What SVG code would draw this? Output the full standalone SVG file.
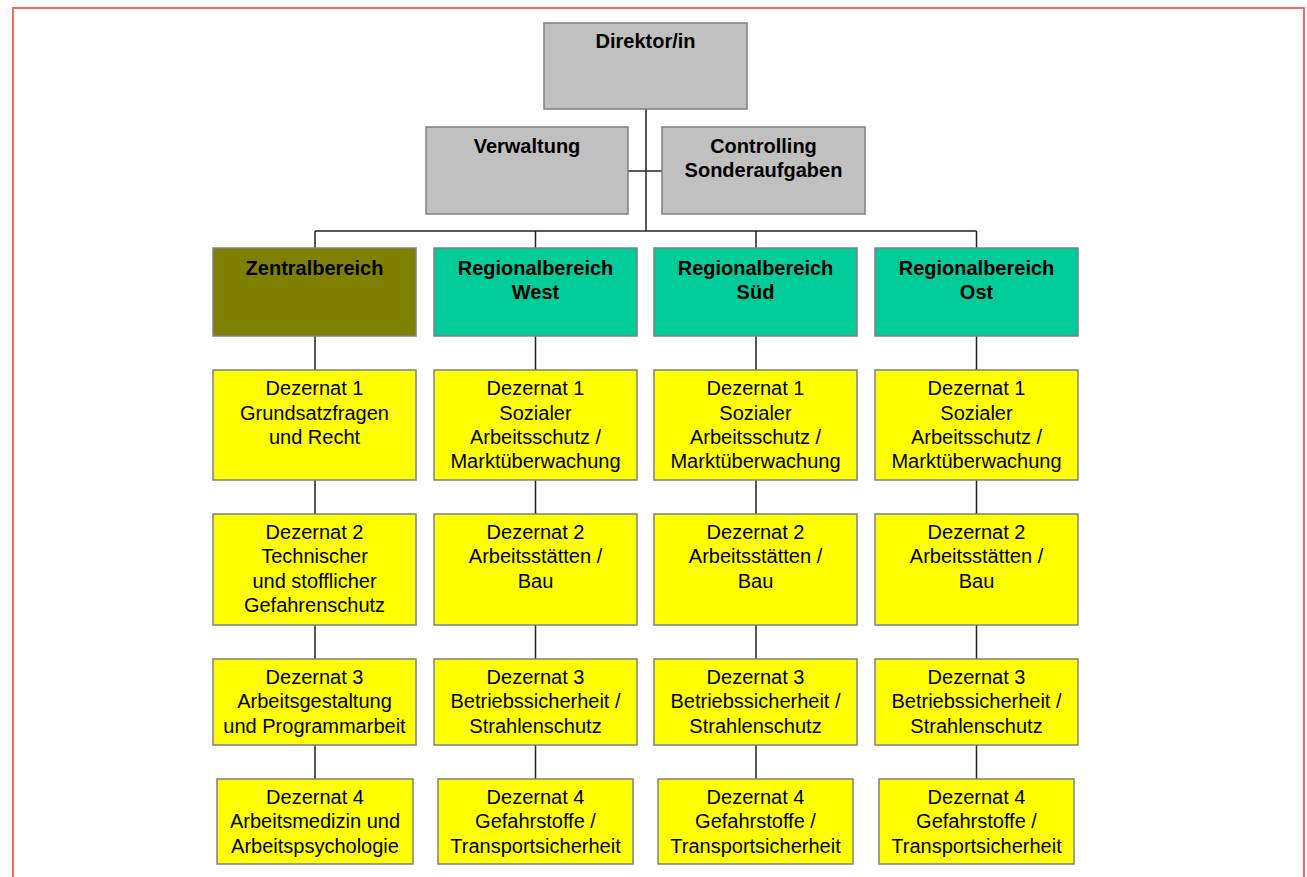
<svg xmlns="http://www.w3.org/2000/svg" width="1307" height="877" viewBox="0 0 1307 877">
<style>
rect.b{stroke:#808080;stroke-width:1.5}
.g{fill:#C0C0C0}.o{fill:#808000}.t{fill:#00CC99}.y{fill:#FFFF00}
text{font-family:"Liberation Sans",Arial,sans-serif;font-size:20px;fill:#000;text-anchor:middle}
text.h{font-weight:bold}
#conn line{stroke:#222;stroke-width:1.5}
</style>
<rect x="13" y="8" width="1291" height="880" fill="#fff" stroke="#F06A5E" stroke-width="2"/>
<g id="conn">
<line x1="646" y1="109" x2="646" y2="231"/>
<line x1="628" y1="171" x2="662" y2="171"/>
<line x1="315" y1="231" x2="976.5" y2="231"/>
<line x1="315" y1="231" x2="315" y2="779"/>
<line x1="535.5" y1="231" x2="535.5" y2="779"/>
<line x1="756" y1="231" x2="756" y2="779"/>
<line x1="976.5" y1="231" x2="976.5" y2="779"/>
</g>
<g id="direktor"><rect class="b g" x="544" y="23" width="203" height="86"/><text class="h" x="645.5" y="48">Direktor/in</text></g>
<g id="verwaltung"><rect class="b g" x="426" y="127" width="202" height="87"/><text class="h" x="527" y="153">Verwaltung</text></g>
<g id="controlling"><rect class="b g" x="662" y="127" width="203" height="87"/><text class="h" x="763.5" y="153">Controlling</text><text class="h" x="763.5" y="177">Sonderaufgaben</text></g>

<g id="zentral"><rect class="b o" x="213" y="248" width="203" height="88"/><text class="h" x="314.5" y="275">Zentralbereich</text></g>
<g id="west"><rect class="b t" x="434" y="248" width="203" height="88"/><text class="h" x="535.5" y="275">Regionalbereich</text><text class="h" x="535.5" y="299">West</text></g>
<g id="sued"><rect class="b t" x="654" y="248" width="203" height="88"/><text class="h" x="755.5" y="275">Regionalbereich</text><text class="h" x="755.5" y="299">Süd</text></g>
<g id="ost"><rect class="b t" x="875" y="248" width="203" height="88"/><text class="h" x="976.5" y="275">Regionalbereich</text><text class="h" x="976.5" y="299">Ost</text></g>

<g id="z1"><rect class="b y" x="213" y="370" width="203" height="110"/><text x="314.5" y="395">Dezernat 1</text><text x="314.5" y="420">Grundsatzfragen</text><text x="314.5" y="444">und Recht</text></g>
<g id="z2"><rect class="b y" x="213" y="514" width="203" height="111"/><text x="314.5" y="539">Dezernat 2</text><text x="314.5" y="563">Technischer</text><text x="314.5" y="588">und stofflicher</text><text x="314.5" y="612">Gefahrenschutz</text></g>
<g id="z3"><rect class="b y" x="213" y="659" width="203" height="86"/><text x="314.5" y="684">Dezernat 3</text><text x="314.5" y="708">Arbeitsgestaltung</text><text x="314.5" y="733">und Programmarbeit</text></g>
<g id="z4"><rect class="b y" x="217" y="779" width="196" height="85"/><text x="315" y="804">Dezernat 4</text><text x="315" y="828">Arbeitsmedizin und</text><text x="315" y="853">Arbeitspsychologie</text></g>

<g id="w1"><rect class="b y" x="434" y="370" width="203" height="110"/><text x="535.5" y="395">Dezernat 1</text><text x="535.5" y="420">Sozialer</text><text x="535.5" y="444">Arbeitsschutz /</text><text x="535.5" y="468">Marktüberwachung</text></g>
<g id="w2"><rect class="b y" x="434" y="514" width="203" height="111"/><text x="535.5" y="539">Dezernat 2</text><text x="535.5" y="563">Arbeitsstätten /</text><text x="535.5" y="588">Bau</text></g>
<g id="w3"><rect class="b y" x="434" y="659" width="203" height="86"/><text x="535.5" y="684">Dezernat 3</text><text x="535.5" y="708">Betriebssicherheit /</text><text x="535.5" y="733">Strahlenschutz</text></g>
<g id="w4"><rect class="b y" x="438" y="779" width="195" height="85"/><text x="535.5" y="804">Dezernat 4</text><text x="535.5" y="828">Gefahrstoffe /</text><text x="535.5" y="853">Transportsicherheit</text></g>

<g id="s1"><rect class="b y" x="654" y="370" width="203" height="110"/><text x="755.5" y="395">Dezernat 1</text><text x="755.5" y="420">Sozialer</text><text x="755.5" y="444">Arbeitsschutz /</text><text x="755.5" y="468">Marktüberwachung</text></g>
<g id="s2"><rect class="b y" x="654" y="514" width="203" height="111"/><text x="755.5" y="539">Dezernat 2</text><text x="755.5" y="563">Arbeitsstätten /</text><text x="755.5" y="588">Bau</text></g>
<g id="s3"><rect class="b y" x="654" y="659" width="203" height="86"/><text x="755.5" y="684">Dezernat 3</text><text x="755.5" y="708">Betriebssicherheit /</text><text x="755.5" y="733">Strahlenschutz</text></g>
<g id="s4"><rect class="b y" x="658" y="779" width="195" height="85"/><text x="755.5" y="804">Dezernat 4</text><text x="755.5" y="828">Gefahrstoffe /</text><text x="755.5" y="853">Transportsicherheit</text></g>

<g id="o1"><rect class="b y" x="875" y="370" width="203" height="110"/><text x="976.5" y="395">Dezernat 1</text><text x="976.5" y="420">Sozialer</text><text x="976.5" y="444">Arbeitsschutz /</text><text x="976.5" y="468">Marktüberwachung</text></g>
<g id="o2"><rect class="b y" x="875" y="514" width="203" height="111"/><text x="976.5" y="539">Dezernat 2</text><text x="976.5" y="563">Arbeitsstätten /</text><text x="976.5" y="588">Bau</text></g>
<g id="o3"><rect class="b y" x="875" y="659" width="203" height="86"/><text x="976.5" y="684">Dezernat 3</text><text x="976.5" y="708">Betriebssicherheit /</text><text x="976.5" y="733">Strahlenschutz</text></g>
<g id="o4"><rect class="b y" x="879" y="779" width="195" height="85"/><text x="976.5" y="804">Dezernat 4</text><text x="976.5" y="828">Gefahrstoffe /</text><text x="976.5" y="853">Transportsicherheit</text></g>
</svg>
